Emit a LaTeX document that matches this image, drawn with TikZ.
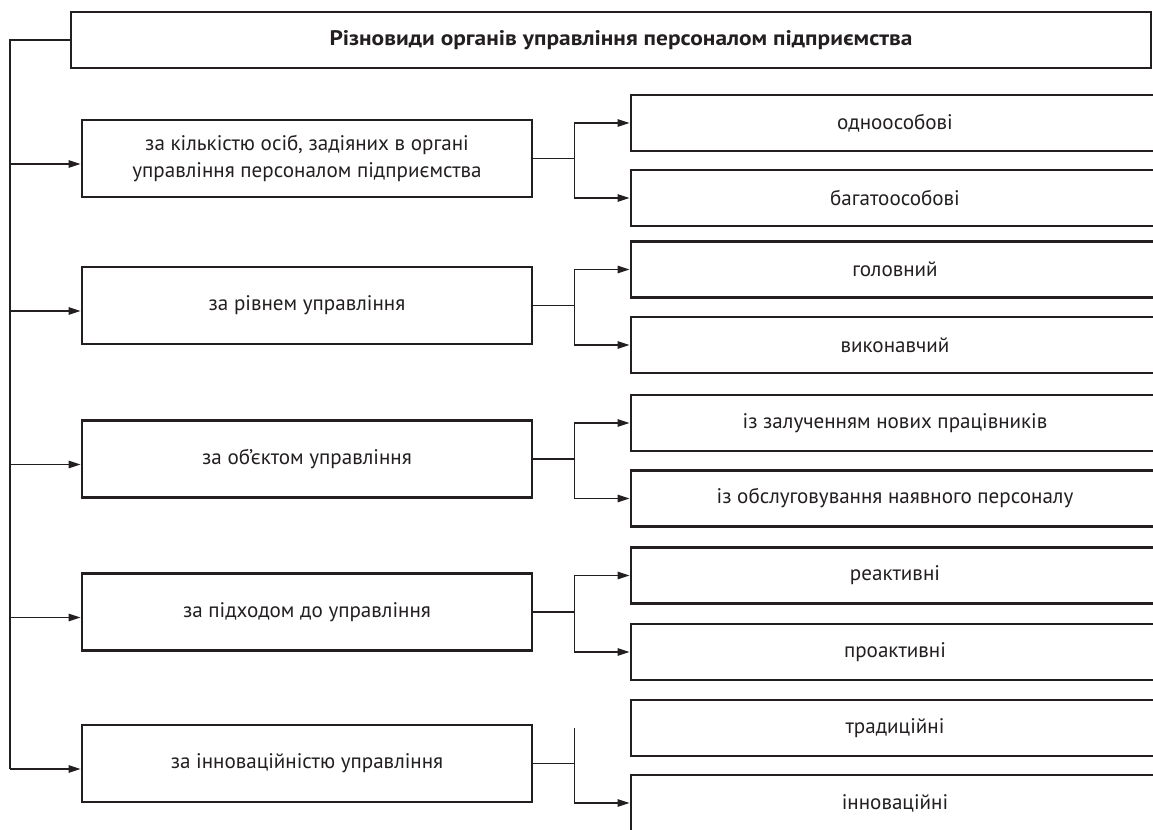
\documentclass[tikz,border=0pt]{standalone}
\usepackage{fontspec}
\setmainfont{PT Sans}
\usetikzlibrary{arrows.meta,calc}
\definecolor{ink}{RGB}{35,31,32}
\tikzset{
  txt/.style={text=ink, font=\fontsize{15.8pt}{20.25pt}\selectfont},
  box/.style={draw=ink, line width=2pt, rectangle, inner sep=0pt, align=center, txt},
  lbox/.style={box, minimum width=337.5pt, minimum height=57.75pt},
  rbox/.style={box, minimum width=396pt, minimum height=42pt},
  conn/.style={draw=ink, line width=1.2pt},
  arr/.style={conn, -{Triangle[length=9pt,width=5.5pt]}}
}
\begin{document}
\begin{tikzpicture}[x=0.75pt, y=-0.75pt]
\useasboundingbox (0,0) rectangle (1153,830);
\clip (0,0) rectangle (1153,830);
% title
\node[box, minimum width=810pt, minimum height=42pt] (T) at (611,40) {\hspace*{15pt}\scalebox{1.11}[1]{\bfseries Різновиди органів управління персоналом підприємства}};
% left boxes
\node[lbox] (L1) at (307,158.5) {за кількістю осіб, задіяних в органі\\управління персоналом підприємства};
\node[lbox] (L2) at (307,305.5) {за рівнем управління};
\node[lbox] (L3) at (307,459) {за об’єктом управління};
\node[lbox] (L4) at (307,612) {за підходом до управління};
\node[lbox] (L5) at (307,763.5) {за інноваційністю управління};
% right boxes
\node[rbox] (R1a) at (895,123) {одноособові};
\node[rbox] (R1b) at (895,198) {багатоособові};
\node[rbox] (R2a) at (895,269.5) {головний};
\node[rbox] (R2b) at (895,345) {виконавчий};
\node[rbox] (R3a) at (895,423) {із залученням нових працівників};
\node[rbox] (R3b) at (895,498.5) {із обслуговування наявного персоналу};
\node[rbox] (R4a) at (895,575.5) {реактивні};
\node[rbox] (R4b) at (895,652) {проактивні};
\node[rbox] (R5a) at (895,728) {традиційні};
\node[rbox] (R5b) at (895,803) {інноваційні};
% trunk
\coordinate (tk) at (10,40);
\foreach \i in {1,...,5}{
  \path ($(L\i.west)+(0,5.5)$) coordinate (p\i);
}
\draw[conn] (T.west) -- (tk) -- (tk |- p5);
\foreach \i in {1,...,5}{
  \draw[arr] (tk |- p\i) -- (p\i);
}
% forks
\foreach \i in {1,...,4}{
  \draw[conn] (L\i.east) -- ++(41,0) coordinate (f\i);
  \draw[conn] (f\i |- R\i a.west) -- (f\i |- R\i b.west);
  \draw[arr] (f\i |- R\i a.west) -- (R\i a.west);
  \draw[arr] (f\i |- R\i b.west) -- (R\i b.west);
}
\draw[conn] (L5.east) -- ++(41,0) coordinate (f5);
\draw[conn] (f5 |- R5a.west) -- (f5 |- R5b.west);
\draw[arr] (f5 |- R5b.west) -- (R5b.west);
\end{tikzpicture}
\end{document}
